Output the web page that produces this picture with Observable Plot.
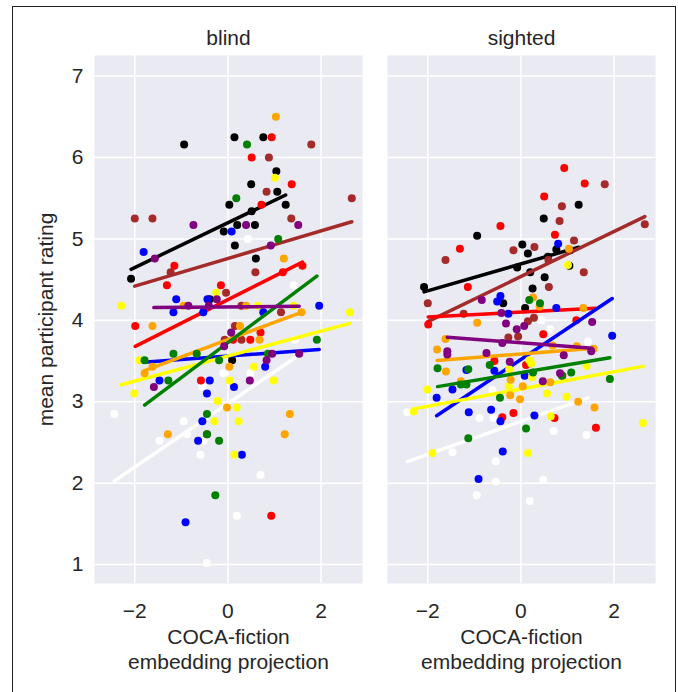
<!DOCTYPE html>
<html>
<head>
<meta charset="utf-8">
<script src="https://cdn.jsdelivr.net/npm/d3@7"></script>
<script src="https://cdn.jsdelivr.net/npm/@observablehq/plot@0.6"></script>
<style>
  html, body { margin: 0; padding: 0; overflow: hidden; background: #fff; }
  #chart { position: absolute; left: 0; top: 0; }
  #border { position: absolute; left: 12px; top: 6px; width: 662px; height: 700px; border: 1px solid #222; pointer-events: none; }
</style>
</head>
<body>
<div id="chart"></div>
<div id="border"></div>
<script>
// ---- data: [x, y] pairs per panel and colour group ----
const panels = ["blind", "sighted"];
const colorOrder = ["white", "black", "brown", "red", "blue", "yellow", "orange", "green", "purple"];
const xTicks = [-2, 0, 2];
const yTicks = [1, 2, 3, 4, 5, 6, 7];
const xLabel1 = "COCA-fiction";
const xLabel2 = "embedding projection";
const yLabel = "mean participant rating";

const blindBlack = [[-0.94,6.16],[0.14,6.25],[0.76,6.25],[1.04,5.83],[0.50,5.67],[1.06,5.58],[0.03,5.42],[1.24,5.42],[0.51,5.34],[0.2,5.17],[0.58,5.17],[-0.09,5.09],[0.15,4.92],[-2.08,4.51],[0.6,4.76],[-0.39,4.26],[0.09,3.51]];
const blindBrown = [[1.79,6.16],[0.88,6.0],[0.83,5.58],[2.66,5.5],[-2.0,5.25],[-1.62,5.25],[1.36,5.25],[-1.23,4.59],[0.59,4.59],[-0.04,4.34],[0.29,4.18],[1.14,4.1],[0.15,3.93],[-0.07,3.76],[0.29,3.76]];
const blindRed = [[0.94,6.25],[0.51,6.0],[1.37,5.67],[0.72,5.42],[-1.15,4.67],[1.18,4.59],[1.6,4.67],[-1.31,4.43],[-0.15,4.43],[-1.99,3.93],[0.7,3.85],[0.48,3.76],[0.11,3.76],[-0.58,3.26],[-0.45,2.6],[0.93,1.6]];
const blindOrange = [[1.03,6.5],[1.2,4.76],[-0.95,4.18],[0.39,4.18],[1.58,4.1],[-1.62,3.93],[0.26,3.93],[0.68,3.76],[-1.62,3.43],[0.03,3.43],[-1.79,3.35],[-0.02,2.93],[1.33,2.85],[-1.29,2.6],[1.22,2.6]];
const blindYellow = [[1.01,5.75],[-0.25,4.34],[-2.29,4.18],[0.64,4.18],[1.41,4.18],[2.62,4.1],[-1.9,3.51],[0.56,3.43],[0.04,3.26],[0.98,3.26],[-2.01,3.1],[-0.22,3.01],[0.19,2.93],[-0.29,2.76],[0.23,2.76],[0.14,2.35]];
const blindGreen = [[0.41,6.16],[0.18,5.5],[1.08,5.0],[1.91,3.76],[-1.17,3.59],[-0.67,3.59],[0.86,3.59],[-1.79,3.51],[-0.19,3.51],[-1.28,3.26],[-0.45,2.85],[-0.45,2.6],[-0.19,2.52],[-0.27,1.85]];
const blindBlue = [[0.08,5.09],[-1.81,4.84],[-1.11,4.26],[-0.44,4.26],[1.96,4.18],[-1.17,4.1],[-0.53,4.1],[0.76,4.1],[0.8,3.43],[-1.47,3.26],[-0.39,3.26],[0.13,3.18],[-0.45,3.1],[-0.55,2.76],[-0.64,2.52],[0.3,2.35],[-0.91,1.52]];
const blindPurple = [[-0.74,5.17],[0.39,5.17],[1.51,5.17],[0.92,4.92],[-1.57,4.76],[-0.24,4.26],[-0.85,4.18],[-0.41,4.18],[0.07,3.85],[-0.08,3.68],[0.83,3.51],[0.95,3.59],[1.53,3.59],[0.47,3.26],[-1.59,3.18]];
const blindWhite = [[0.43,5.0],[1.41,4.43],[1.44,3.76],[-0.1,3.35],[0.48,3.35],[-0.55,3.18],[-2.44,2.85],[-0.95,2.76],[-0.88,2.6],[-1.47,2.52],[-0.52,2.52],[-0.59,2.35],[0.7,2.1],[0.19,1.6],[-0.45,1.02]];

const sightedBlack = [[1.24,5.42],[0.49,5.25],[-0.94,5.04],[0.03,4.93],[0.76,4.87],[1.06,4.86],[0.15,4.82],[0.58,4.78],[-0.08,4.65],[1.04,4.67],[0.2,4.59],[0.51,4.53],[-2.08,4.41],[0.25,4.39],[-0.38,4.21],[0.09,4.15]];
const sightedBrown = [[1.8,5.67],[0.88,5.4],[0.83,5.22],[2.66,5.18],[1.14,4.98],[0.29,4.9],[-0.16,4.86],[0.59,4.74],[-1.62,4.74],[1.35,4.59],[0.6,4.41],[-2.0,4.21],[-1.23,4.08],[0.28,4.03],[0.15,3.99],[-0.27,3.79],[-0.06,3.8]];
const sightedRed = [[0.93,5.87],[1.37,5.68],[0.5,5.52],[-0.44,5.16],[0.73,5.05],[-1.31,4.88],[-1.14,4.41],[1.19,4.0],[0.48,3.83],[-0.57,3.5],[0.11,3.45],[-0.4,2.81],[-0.16,2.86],[1.61,2.68],[-1.99,3.95],[0.89,3.32],[0.72,2.8]];
const sightedOrange = [[1.03,4.88],[0.26,4.28],[0.4,4.17],[1.34,4.15],[-0.94,3.97],[-1.62,3.77],[-1.8,3.64],[1.2,3.68],[1.56,3.65],[0.68,3.69],[-1.61,3.37],[-1.29,3.25],[-0.22,3.27],[-0.23,3.08],[-0.02,3.03],[0.04,3.19],[0.63,3.24],[1.23,3.0],[1.58,2.93]];
const sightedYellow = [[1.01,4.68],[0.18,3.51],[0.24,3.3],[1.41,3.44],[-0.26,3.19],[0.56,3.1],[0.98,3.06],[-2.01,3.15],[-2.3,2.88],[0.64,2.82],[2.62,2.74],[-1.9,2.37],[0.15,2.37],[0.22,3.47],[-0.25,3.4]];
const sightedGreen = [[0.18,4.25],[0.41,4.21],[-1.79,3.41],[-1.13,3.4],[-0.67,3.45],[0.26,3.36],[0.88,3.32],[1.08,3.36],[1.91,3.28],[-1.29,3.21],[-1.17,3.21],[-0.45,3.05],[0.11,2.67],[-1.13,2.55]];
const sightedBlue = [[0.8,4.94],[-0.44,4.3],[-0.51,4.23],[0.76,4.15],[-0.27,4.08],[1.96,3.81],[-1.17,3.39],[-0.57,3.38],[0.08,3.32],[-1.47,3.15],[-1.81,3.05],[-1.12,2.87],[-0.64,2.9],[-0.44,2.76],[0.29,2.83],[-0.39,2.39],[-0.91,2.05]];
const sightedPurple = [[-0.84,4.25],[-0.42,4.09],[1.53,3.98],[-0.32,3.96],[0.07,3.93],[-0.09,3.89],[-0.4,3.72],[-1.58,3.62],[-1.58,3.58],[-0.74,3.6],[1.51,3.62],[0.92,3.57],[-0.24,3.49],[0.47,3.25],[0.84,3.35]];
const sightedWhite = [[0.44,4.0],[0.63,3.89],[1.44,3.74],[-0.61,3.14],[-2.44,2.87],[-0.89,2.8],[-0.59,2.8],[0.7,2.64],[1.41,2.59],[-1.47,2.38],[-0.54,2.27],[-0.54,2.02],[0.48,2.04],[-0.95,1.85],[0.19,1.78]];

const groups = {
  blind:   {black: blindBlack, brown: blindBrown, red: blindRed, orange: blindOrange, yellow: blindYellow, green: blindGreen, blue: blindBlue, purple: blindPurple, white: blindWhite},
  sighted: {black: sightedBlack, brown: sightedBrown, red: sightedRed, orange: sightedOrange, yellow: sightedYellow, green: sightedGreen, blue: sightedBlue, purple: sightedPurple, white: sightedWhite}
};

const rows = [];
for (const p of panels) for (const c of colorOrder) for (const [x, y] of groups[p][c]) rows.push({panel: p, color: c, x, y});

const font = "'Liberation Sans', Arial, Helvetica, sans-serif";
const textColor = "#262626";
const fs = 21;

const marks = [
  Plot.frame({fill: "#EAEAF2", stroke: null}),
  Plot.ruleX(xTicks, {stroke: "white", strokeWidth: 1.5}),
  Plot.ruleY(yTicks, {stroke: "white", strokeWidth: 1.5}),
];
for (const c of colorOrder) {
  const d = rows.filter(r => r.color === c);
  marks.push(Plot.dot(d, {x: "x", y: "y", fx: "panel", fill: c, r: 4, stroke: null}));
  marks.push(Plot.linearRegressionY(d, {x: "x", y: "y", fx: "panel", stroke: c, strokeWidth: 3.5, ci: 0}));
}
marks.push(
  Plot.axisX({ticks: xTicks, tickSize: 0, tickPadding: 20, tickFormat: d3.format("d"), fontSize: fs, label: null, fill: textColor}),
  Plot.axisY({ticks: yTicks, tickSize: 0, tickPadding: 11, tickFormat: d3.format("d"), fontSize: fs, label: null, fill: textColor}),
  Plot.text(panels, {fx: d => d, text: d => d, frameAnchor: "top", lineAnchor: "middle", dy: -17, fontSize: fs, fill: textColor}),
  Plot.text(panels, {fx: d => d, text: () => xLabel1, frameAnchor: "bottom", lineAnchor: "middle", dy: 54, fontSize: fs, fill: textColor}),
  Plot.text(panels, {fx: d => d, text: () => xLabel2, frameAnchor: "bottom", lineAnchor: "middle", dy: 79, fontSize: fs, fill: textColor}),
  Plot.text(["blind"], {fx: d => d, text: () => yLabel, frameAnchor: "left", textAnchor: "middle", lineAnchor: "middle", dx: -48, rotate: -90, fontSize: fs, fill: textColor})
);

const chart = Plot.plot({
  width: 678,
  height: 692,
  marginLeft: 93,
  marginRight: 22,
  marginTop: 55,
  marginBottom: 109,
  style: {fontFamily: font, color: textColor, background: "white", overflow: "visible"},
  fx: {domain: panels, axis: null, paddingInner: 0.085, paddingOuter: 0, label: null},
  x: {domain: [-2.865, 2.89], axis: null},
  y: {domain: [0.767, 7.253], axis: null},
  marks
});
document.getElementById("chart").appendChild(chart);
</script>
</body>
</html>
